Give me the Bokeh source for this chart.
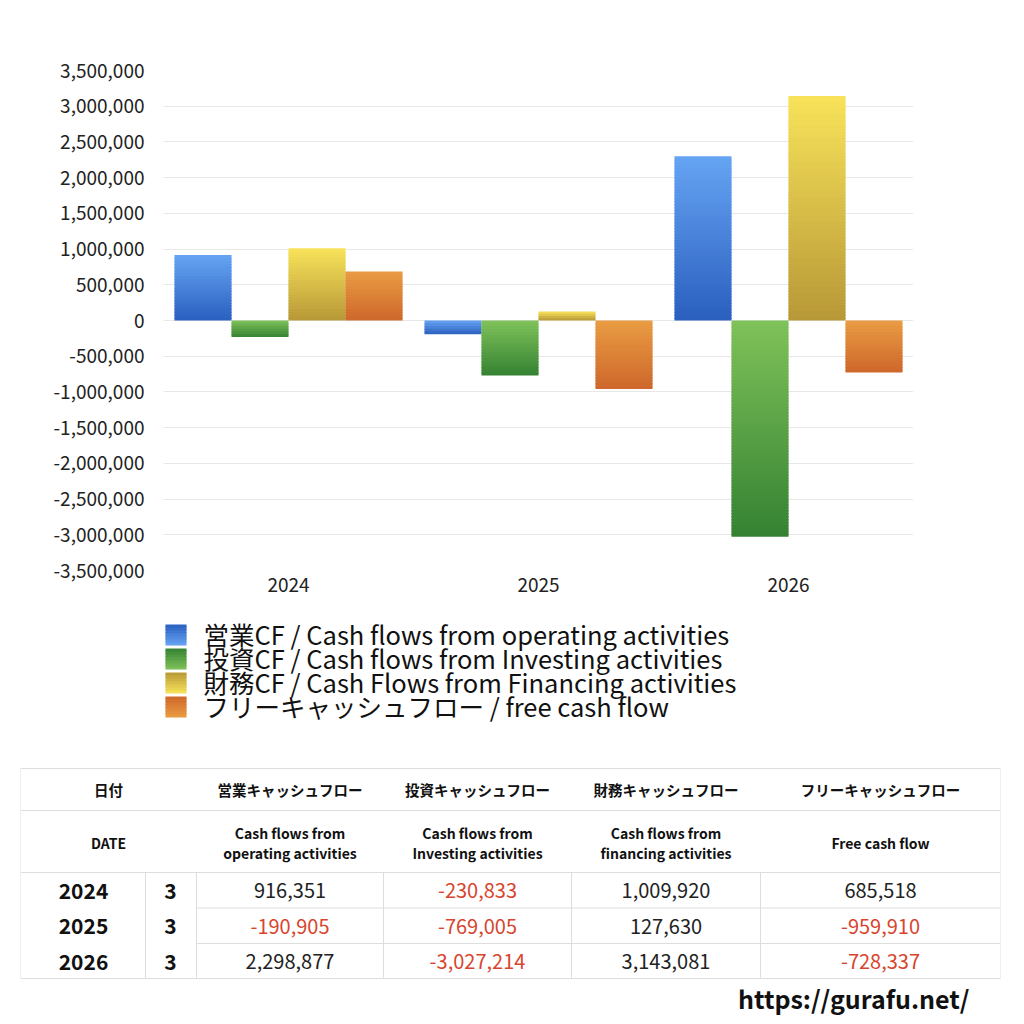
import numpy as np
from bokeh.plotting import figure
from bokeh.models import ColumnDataSource, FactorRange, Range1d, SingleIntervalTicker, NumeralTickFormatter
from bokeh.layouts import column
from bokeh.transform import dodge
from bokeh.core.properties import value
from bokeh.embed import file_html
from bokeh.resources import INLINE

# ---------------- data ----------------
years = ["2024", "2025", "2026"]
operating = [916351, -190905, 2298877]
investing = [-230833, -769005, -3027214]
financing = [1009920, 127630, 3143081]
free_cf = [685518, -959910, -728337]

series_names = [
    "営業CF / Cash flows from operating activities",
    "投資CF / Cash flows from Investing activities",
    "財務CF / Cash Flows from Financing activities",
    "フリーキャッシュフロー / free cash flow",
]
series_values = [operating, investing, financing, free_cf]
# (top colour, bottom colour) of each gradient
series_colors = [("#66a4f3", "#2a5fbf"), ("#80c25a", "#348232"),
                 ("#f8e35a", "#b79837"), ("#e99c43", "#ce672b")]

table_jp = ["営業キャッシュフロー", "投資キャッシュフロー", "財務キャッシュフロー", "フリーキャッシュフロー"]
table_en = [["Cash flows from", "operating activities"], ["Cash flows from", "Investing activities"],
            ["Cash flows from", "financing activities"], ["Free cash flow"]]
months = ["3", "3", "3"]

FONT = value("Noto Sans CJK JP")
Y_MIN, Y_MAX, FRAME_H = -3500000, 3500000, 500
SLICE_PX = 3.0  # approximate pixel height of one gradient step


def hex2rgb(h):
    h = h.lstrip("#")
    return np.array([int(h[i:i + 2], 16) for i in (0, 2, 4)], dtype=float)


def mix(c1, c2, t):
    c = hex2rgb(c1) * (1 - t) + hex2rgb(c2) * t
    return "#%02x%02x%02x" % tuple(int(round(v)) for v in c)


def gradient_slices(hi, lo, n):
    """Split [lo, hi] into n overlapping slices, from top to bottom."""
    edges = np.linspace(hi, lo, n + 1)
    step = (hi - lo) / n
    tops = edges[:-1].copy()
    bots = edges[1:].copy()
    bots[:-1] -= 0.5 * step  # overlap into the next slice to hide seams
    return tops, bots


def gradient_source(vals, ctop, cbot):
    xs, tops, bots, cols = [], [], [], []
    per_px = (Y_MAX - Y_MIN) / FRAME_H
    for yr, v in zip(years, vals):
        n = max(3, int(np.ceil(abs(v) / per_px / SLICE_PX)))
        t, b = gradient_slices(max(0, v), min(0, v), n)
        for i in range(n):
            xs.append(yr)
            tops.append(t[i])
            bots.append(b[i])
            cols.append(mix(ctop, cbot, (i + 0.5) / n))
    return ColumnDataSource(dict(x=xs, top=tops, bottom=bots, color=cols))


# ---------------- chart ----------------
p = figure(width=1008, height=608, x_range=FactorRange(factors=years, range_padding=0),
           y_range=Range1d(Y_MIN, Y_MAX), output_backend="svg", toolbar_location=None,
           min_border_left=163, min_border_right=95, min_border_top=70, min_border_bottom=38)
p.frame_align = False
p.outline_line_color = None
p.background_fill_color = "white"
p.border_fill_color = "white"

bar_w = 0.228
offsets = [-1.5 * bar_w, -0.5 * bar_w, 0.5 * bar_w, 1.5 * bar_w]
for vals, (ct, cb), off in zip(series_values, series_colors, offsets):
    src = gradient_source(vals, ct, cb)
    p.vbar(x=dodge("x", off, range=p.x_range), top="top", bottom="bottom", width=bar_w,
           source=src, fill_color="color", line_color=None)

p.yaxis.ticker = SingleIntervalTicker(interval=500000)
p.yaxis.formatter = NumeralTickFormatter(format="0,0")
p.yaxis.axis_line_color = None
p.yaxis.major_tick_line_color = None
p.yaxis.minor_tick_line_color = None
p.yaxis.major_label_standoff = 13
p.yaxis.major_label_text_font = "Noto Sans CJK JP"
p.yaxis.major_label_text_font_size = "19px"
p.yaxis.major_label_text_color = "#222222"

p.xaxis.axis_line_color = None
p.xaxis.major_tick_line_color = None
p.xaxis.minor_tick_line_color = None
p.xaxis.major_label_standoff = 1
p.xaxis.major_label_text_font = "Noto Sans CJK JP"
p.xaxis.major_label_text_font_size = "19px"
p.xaxis.major_label_text_color = "#222222"

p.xgrid.grid_line_color = None
p.ygrid.grid_line_color = "#e8e8e8"
p.ygrid.grid_line_width = 1

# ---------------- legend + table (page pixel coordinates) ----------------
q = figure(width=1008, height=408, x_range=Range1d(0, 1008), y_range=Range1d(1016, 608),
           output_backend="svg", toolbar_location=None, x_axis_location=None, y_axis_location=None,
           min_border=0)
q.frame_align = False
q.outline_line_color = None
q.xgrid.grid_line_color = None
q.ygrid.grid_line_color = None

# legend
leg_x0, leg_x1, leg_y0, leg_h, leg_step, leg_n = 165, 186, 624, 21, 24, 7
for k, ((ct, cb), name) in enumerate(zip(series_colors, series_names)):
    top = leg_y0 + k * leg_step
    t, b = gradient_slices(top + leg_h, top, leg_n)
    cols = [mix(ct, cb, (i + 0.5) / leg_n) for i in range(leg_n)]
    q.quad(left=leg_x0, right=leg_x1, top=t, bottom=b, fill_color=cols, line_color=None)
    q.text(x=[203], y=[top + leg_h / 2 - 2], text=[name], text_font=FONT, text_font_size="25.5px",
           text_baseline="middle", text_align="left", text_color="#111111")

# table grid lines
GRID = "#dedede"
tx0, tx1 = 20, 1000
col_x = [145, 196, 383, 571, 760]
q.segment(x0=[tx0] * 4, x1=[tx1] * 4, y0=[768, 810, 872, 978], y1=[768, 810, 872, 978],
          line_color=GRID, line_width=1)
q.segment(x0=[196, 196], x1=[tx1, tx1], y0=[907.5, 943], y1=[907.5, 943], line_color=GRID, line_width=1)
q.segment(x0=col_x, x1=col_x, y0=[872] * 5, y1=[978] * 5, line_color=GRID, line_width=1)
q.segment(x0=[tx0, tx1], x1=[tx0, tx1], y0=[768, 768], y1=[978, 978], line_color="#efefef", line_width=1)

col_centers = [289.5, 477, 665.5, 880]
# header row 1
q.text(x=[108] + col_centers, y=[789] * 5, text=["日付"] + table_jp, text_font=FONT,
       text_font_size="14.5px", text_font_style="bold", text_align="center", text_baseline="middle",
       text_color="#111111")
# header row 2
hx, hy, ht = [108], [842], ["DATE"]
for cx, lines in zip(col_centers, table_en):
    if len(lines) == 2:
        hx += [cx, cx]
        hy += [832, 852]
        ht += lines
    else:
        hx.append(cx)
        hy.append(842)
        ht.append(lines[0])
q.text(x=hx, y=hy, text=ht, text_font=FONT, text_font_size="14px", text_font_style="bold",
       text_align="center", text_baseline="middle", text_color="#111111")

# data rows
row_centers = [890, 925.5, 961]
q.text(x=[83] * 3, y=row_centers, text=years, text_font=FONT, text_font_size="21px",
       text_font_style="bold", text_align="center", text_baseline="middle", text_color="#111111")
q.text(x=[170] * 3, y=row_centers, text=months, text_font=FONT, text_font_size="21px",
       text_font_style="bold", text_align="center", text_baseline="middle", text_color="#111111")
cx_l, cy_l, ct_l, cc_l = [], [], [], []
for cx, vals in zip(col_centers, series_values):
    for cy, v in zip(row_centers, vals):
        cx_l.append(cx)
        cy_l.append(cy)
        ct_l.append(f"{v:,}")
        cc_l.append("#d8452e" if v < 0 else "#222222")
q.text(x=cx_l, y=cy_l, text=ct_l, text_color=cc_l, text_font=FONT, text_font_size="20px",
       text_align="center", text_baseline="middle")

# url
q.text(x=[969], y=[997], text=["https://gurafu.net/"], text_font=FONT, text_font_size="25px",
       text_font_style="bold", text_align="right", text_baseline="middle", text_color="#111111")

layout = column(p, q, spacing=0)
open("out.html", "w").write(file_html(layout, INLINE))
